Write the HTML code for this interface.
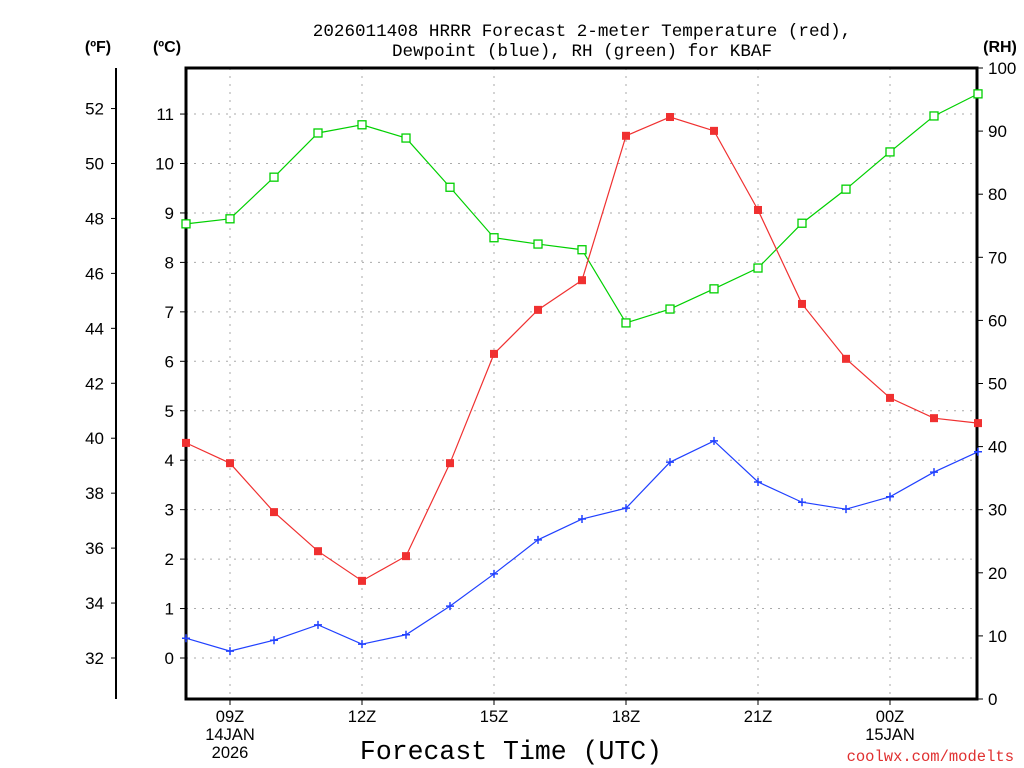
<!DOCTYPE html>
<html><head><meta charset="utf-8"><style>
body{margin:0;background:#fff;}
svg{display:block;font-family:"Liberation Sans","DejaVu Sans",sans-serif;}
</style></head><body>
<svg id="c" width="1024" height="768" viewBox="0 0 1024 768">
<text x="582" y="36" text-anchor="middle" font-size="17.6" font-family="Liberation Mono, monospace">2026011408 HRRR Forecast 2-meter Temperature (red),</text>
<text x="582" y="56" text-anchor="middle" font-size="17.6" font-family="Liberation Mono, monospace">Dewpoint (blue), RH (green) for KBAF</text>
<text x="98" y="52" text-anchor="middle" font-size="16" font-weight="bold">(ºF)</text>
<text x="167" y="52" text-anchor="middle" font-size="16" font-weight="bold">(ºC)</text>
<text x="1000" y="52" text-anchor="middle" font-size="16" font-weight="bold">(RH)</text>
<text x="511" y="759" text-anchor="middle" font-size="26.5" font-family="Liberation Mono, monospace">Forecast Time (UTC)</text>
<text x="1014" y="761" text-anchor="end" font-size="15.5" font-family="Liberation Mono, monospace" fill="#e03030">coolwx.com/modelts</text>
<g id="grid"></g><g id="axes"></g><g id="series"></g>
</svg>
<script>
const hours=[8,9,10,11,12,13,14,15,16,17,18,19,20,21,22,23,24,25,26];
const tempC=[4.35,3.94,2.95,2.16,1.56,2.06,3.94,6.15,7.04,7.64,10.56,10.94,10.66,9.06,7.16,6.05,5.26,4.85,4.75];
const dewC=[0.40,0.14,0.36,0.67,0.28,0.47,1.05,1.70,2.39,2.81,3.03,3.96,4.39,3.56,3.15,3.01,3.26,3.76,4.17];
const rh=[75.3,76.1,82.7,89.7,91.0,88.9,81.1,73.1,72.1,71.2,59.6,61.8,65.0,68.3,75.4,80.8,86.7,92.4,95.9];
const xTickHours=[9,12,15,18,21,24];
const xTickLabels=[["09Z","14JAN","2026"],["12Z"],["15Z"],["18Z"],["21Z"],["00Z","15JAN"]];
const cTicks=[0,1,2,3,4,5,6,7,8,9,10,11];
const fTicks=[32,34,36,38,40,42,44,46,48,50,52];
const rhTicks=[0,10,20,30,40,50,60,70,80,90,100];
const L=186,R=977,T=68,B=699;
const NS="http://www.w3.org/2000/svg";
const xS=h=>L+(h-8)*44;
const yC=c=>658-c*49.45;
const yF=f=>yC((f-32)/1.8);
const yR=r=>B-r*(B-T)/100;
function mk(tag,at,par){const e=document.createElementNS(NS,tag);for(const k in at)e.setAttribute(k,at[k]);document.getElementById(par).appendChild(e);return e;}
xTickHours.forEach(h=>{const l=mk('line',{x1:xS(h),x2:xS(h),y1:T,y2:B,stroke:'#aaa','stroke-dasharray':'2,6'},'grid');

});
cTicks.forEach(c=>{const l=mk('line',{x1:L,x2:R,y1:yC(c),y2:yC(c),stroke:'#aaa','stroke-dasharray':'2,6'},'grid');


const t=mk('line',{x1:L-6,x2:L,y1:yC(c),y2:yC(c),stroke:'#000'},'axes');


const tx=mk('text',{x:L-12,y:yC(c)+6,'text-anchor':'end','font-size':17},'axes');tx.textContent=c;

});
fTicks.forEach(f=>{const t=mk('line',{x1:111,x2:116,y1:yF(f),y2:yF(f),stroke:'#000'},'axes');


const tx=mk('text',{x:104,y:yF(f)+6,'text-anchor':'end','font-size':17},'axes');tx.textContent=f;

});
rhTicks.forEach(r=>{const t=mk('line',{x1:R,x2:R+6,y1:yR(r),y2:yR(r),stroke:'#000'},'axes');


const tx=mk('text',{x:988,y:yR(r)+6,'font-size':17},'axes');tx.textContent=r;

});
xTickHours.forEach((h,i)=>{const t=mk('line',{x1:xS(h),x2:xS(h),y1:B,y2:B+6,stroke:'#000'},'axes');


xTickLabels[i].forEach((s,j)=>{const tx=mk('text',{x:xS(h),y:722+j*18,'text-anchor':'middle','font-size':16.5},'axes');tx.textContent=s;

});});
const fa=mk('line',{x1:116,x2:116,y1:T,y2:B,stroke:'#000','stroke-width':2},'axes');


const box=mk('rect',{x:L,y:T,width:R-L,height:B-T,fill:'none',stroke:'#000','stroke-width':3},'axes');


function series(vals,yf,color,kind,name){
const pts=vals.map((v,i)=>[xS(hours[i]),yf(v)]);
const pl=mk('polyline',{points:pts.map(p=>p.join(',')).join(' '),fill:'none',stroke:color,'stroke-width':1.2},'series');


pts.forEach(p=>{let m;
if(kind==='fill')m=mk('rect',{x:p[0]-4,y:p[1]-4,width:8,height:8,fill:color},'series');
else if(kind==='open')m=mk('rect',{x:p[0]-4,y:p[1]-4,width:8,height:8,fill:'#fff',stroke:color,'stroke-width':1.3},'series');
else m=mk('path',{d:`M${p[0]-4},${p[1]}h8M${p[0]},${p[1]-4}v8`,stroke:color,'stroke-width':1.5},'series');

});}
series(rh,yR,'#00d000','open','rh');
series(tempC,yC,'#f03030','fill','temperature');
series(dewC,yC,'#2040ff','plus','dewpoint');
</script>
</body></html>
